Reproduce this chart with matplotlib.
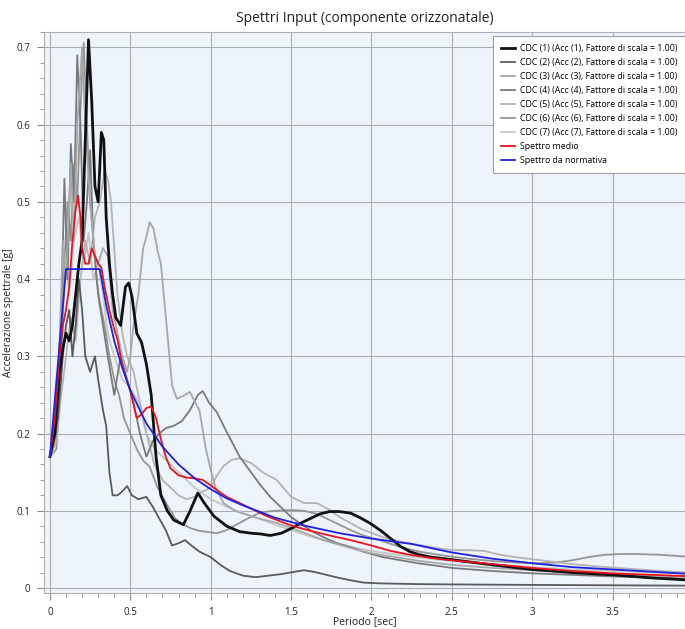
import matplotlib
matplotlib.use("Agg")
import matplotlib.pyplot as plt
from matplotlib.ticker import MultipleLocator, FuncFormatter

plt.rcParams['font.family'] = ['Open Sans', 'DejaVu Sans']

title = "Spettri Input (componente orizzonatale)"
xlabel = "Periodo [sec]"
ylabel = "Accelerazione spettrale [g]"

labels = [
    "CDC (1) (Acc (1), Fattore di scala = 1.00)",
    "CDC (2) (Acc (2), Fattore di scala = 1.00)",
    "CDC (3) (Acc (3), Fattore di scala = 1.00)",
    "CDC (4) (Acc (4), Fattore di scala = 1.00)",
    "CDC (5) (Acc (5), Fattore di scala = 1.00)",
    "CDC (6) (Acc (6), Fattore di scala = 1.00)",
    "CDC (7) (Acc (7), Fattore di scala = 1.00)",
    "Spettro medio",
    "Spettro da normativa",
]

# CDC 1
t1 = [0, 0.03, 0.06, 0.08, 0.1, 0.12, 0.14, 0.16, 0.18, 0.2, 0.22, 0.24, 0.26, 0.28, 0.3, 0.32, 0.335,
      0.35, 0.37, 0.39, 0.41, 0.44, 0.47, 0.49, 0.51, 0.54, 0.57, 0.6, 0.63, 0.66, 0.69, 0.73, 0.77,
      0.83, 0.87, 0.92, 0.96, 1.02, 1.1, 1.18, 1.25, 1.31, 1.37, 1.44, 1.5, 1.56, 1.62, 1.68, 1.74,
      1.8, 1.87, 1.93, 1.99, 2.06, 2.12, 2.18, 2.24, 2.3, 2.37, 2.49, 2.75, 3.0, 3.25, 3.5, 3.75, 4.0]
s1 = [0.17, 0.2, 0.28, 0.31, 0.33, 0.32, 0.34, 0.38, 0.42, 0.45, 0.58, 0.71, 0.63, 0.52, 0.5, 0.59, 0.58,
      0.48, 0.42, 0.38, 0.35, 0.34, 0.39, 0.395, 0.378, 0.33, 0.318, 0.29, 0.25, 0.17, 0.12, 0.1, 0.088,
      0.082, 0.099, 0.123, 0.11, 0.093, 0.08, 0.073, 0.071, 0.07, 0.068, 0.071, 0.077, 0.084, 0.09, 0.096, 0.099,
      0.099, 0.097, 0.091, 0.084, 0.074, 0.064, 0.054, 0.047, 0.043, 0.04, 0.037, 0.03, 0.024, 0.02, 0.017, 0.013, 0.01]

# CDC 2
t2 = [0, 0.05, 0.08, 0.1, 0.12, 0.14, 0.16, 0.18, 0.2, 0.22, 0.25, 0.28, 0.3, 0.33, 0.35, 0.37, 0.39,
      0.42, 0.45, 0.48, 0.51, 0.55, 0.6, 0.64, 0.68, 0.72, 0.76, 0.8, 0.84, 0.88, 0.93, 1.0, 1.06, 1.12,
      1.2, 1.28, 1.36, 1.44, 1.52, 1.58, 1.64, 1.72, 1.8, 1.87, 1.95, 2.05, 2.3, 2.6, 3.0, 3.5, 4.0]
s2 = [0.17, 0.22, 0.3, 0.34, 0.36, 0.3, 0.34, 0.4, 0.36, 0.3, 0.28, 0.3, 0.27, 0.23, 0.21, 0.15, 0.12,
      0.12, 0.125, 0.132, 0.12, 0.115, 0.118, 0.105, 0.09, 0.075, 0.055, 0.058, 0.062, 0.055, 0.047, 0.04, 0.03, 0.022,
      0.016, 0.014, 0.016, 0.018, 0.021, 0.023, 0.021, 0.017, 0.013, 0.01, 0.007, 0.006, 0.005, 0.0045, 0.004, 0.0035, 0.003]

# CDC 3
t3 = [0, 0.05, 0.08, 0.1, 0.13, 0.15, 0.17, 0.2, 0.22, 0.25, 0.28, 0.3, 0.33, 0.36, 0.39, 0.42, 0.45,
      0.48, 0.5, 0.52, 0.55, 0.58, 0.6, 0.62, 0.645, 0.67, 0.69, 0.73, 0.76, 0.79, 0.84, 0.87, 0.93, 0.97,
      1.0, 1.03, 1.08, 1.15, 1.22, 1.3, 1.4, 1.5, 1.6, 1.7, 1.8, 1.9, 2.0, 2.15, 2.3, 2.5, 2.75, 3.0,
      3.25, 3.5, 3.75, 4.0]
s3 = [0.17, 0.25, 0.45, 0.4, 0.55, 0.45, 0.6, 0.7, 0.6, 0.5, 0.43, 0.42, 0.44, 0.43, 0.36, 0.33, 0.3,
      0.28, 0.3, 0.34, 0.38, 0.44, 0.455, 0.474, 0.465, 0.436, 0.42, 0.33, 0.262, 0.245, 0.25, 0.254, 0.23, 0.18,
      0.153, 0.13, 0.11, 0.1, 0.095, 0.09, 0.085, 0.078, 0.07, 0.062, 0.056, 0.05, 0.045, 0.04, 0.035, 0.03, 0.026, 0.023,
      0.02, 0.018, 0.016, 0.015]

# CDC 4
t4 = [0, 0.04, 0.07, 0.09, 0.11, 0.13, 0.15, 0.17, 0.19, 0.21, 0.23, 0.25, 0.27, 0.3, 0.33, 0.36, 0.4,
      0.44, 0.48, 0.52, 0.56, 0.6, 0.64, 0.68, 0.72, 0.77, 0.82, 0.87, 0.92, 0.95, 0.99, 1.04, 1.08, 1.12,
      1.18, 1.25, 1.31, 1.37, 1.44, 1.5, 1.56, 1.62, 1.68, 1.74, 1.8, 1.87, 1.95, 2.07, 2.18, 2.29, 2.4,
      2.5, 2.75, 3.0, 3.25, 3.5, 3.75, 4.0]
s4 = [0.17, 0.2, 0.35, 0.53, 0.4, 0.575, 0.5, 0.69, 0.6, 0.45, 0.5, 0.567, 0.45, 0.38, 0.34, 0.3, 0.25,
      0.3, 0.27, 0.24, 0.2, 0.17, 0.19, 0.2, 0.207, 0.21, 0.216, 0.23, 0.25, 0.255, 0.24, 0.227, 0.21, 0.194,
      0.17, 0.15, 0.133, 0.118, 0.104, 0.092, 0.083, 0.075, 0.068, 0.062, 0.057, 0.053, 0.047, 0.04, 0.036, 0.032, 0.029,
      0.026, 0.022, 0.019, 0.017, 0.015, 0.0135, 0.012]

# CDC 5
t5 = [0, 0.04, 0.07, 0.1, 0.13, 0.16, 0.19, 0.22, 0.25, 0.28, 0.31, 0.34, 0.36, 0.38, 0.4, 0.42, 0.45,
      0.48, 0.52, 0.56, 0.6, 0.65, 0.7, 0.75, 0.8, 0.85, 0.9, 0.95, 1.0, 1.04, 1.08, 1.13, 1.18, 1.25,
      1.33, 1.41, 1.5, 1.58, 1.66, 1.74, 1.8, 1.87, 1.95, 2.07, 2.18, 2.29, 2.4, 2.5, 2.6, 2.7, 2.8,
      2.93, 3.05, 3.2, 3.4, 3.6, 3.8, 4.0]
s5 = [0.17, 0.19, 0.25, 0.3, 0.35, 0.32, 0.4, 0.45, 0.42, 0.48, 0.5, 0.54, 0.53, 0.5, 0.44, 0.38, 0.33,
      0.3, 0.28, 0.24, 0.2, 0.16, 0.14, 0.13, 0.12, 0.115, 0.118, 0.125, 0.13, 0.146, 0.158, 0.166, 0.168, 0.162,
      0.149, 0.14, 0.118, 0.11, 0.11, 0.101, 0.092, 0.084, 0.075, 0.066, 0.06, 0.056, 0.052, 0.049, 0.049, 0.048, 0.043,
      0.039, 0.036, 0.032, 0.028, 0.025, 0.022, 0.02]

# CDC 6
t6 = [0, 0.04, 0.07, 0.09, 0.11, 0.13, 0.15, 0.17, 0.19, 0.21, 0.23, 0.25, 0.27, 0.29, 0.31, 0.34, 0.37,
      0.4, 0.43, 0.46, 0.5, 0.54, 0.58, 0.62, 0.67, 0.73, 0.78, 0.83, 0.88, 0.93, 1.0, 1.04, 1.1, 1.16,
      1.23, 1.31, 1.4, 1.5, 1.58, 1.66, 1.74, 1.8, 1.87, 1.95, 2.05, 2.18, 2.3, 2.45, 2.6, 2.75, 2.9,
      3.05, 3.15, 3.25, 3.35, 3.45, 3.55, 3.65, 3.8, 4.0]
s6 = [0.17, 0.18, 0.28, 0.42, 0.5, 0.45, 0.55, 0.5, 0.62, 0.706, 0.6, 0.5, 0.45, 0.4, 0.37, 0.34, 0.3,
      0.27, 0.25, 0.22, 0.2, 0.18, 0.165, 0.157, 0.13, 0.107, 0.09, 0.082, 0.077, 0.074, 0.072, 0.071, 0.075, 0.082,
      0.09, 0.098, 0.1, 0.101, 0.1, 0.096, 0.088, 0.082, 0.075, 0.068, 0.062, 0.053, 0.047, 0.042, 0.038, 0.035, 0.033,
      0.032, 0.033, 0.036, 0.04, 0.043, 0.044, 0.044, 0.043, 0.04]

# CDC 7
t7 = [0, 0.05, 0.08, 0.1, 0.12, 0.15, 0.18, 0.21, 0.24, 0.27, 0.3, 0.33, 0.36, 0.4, 0.45, 0.5, 0.55,
      0.6, 0.65, 0.7, 0.75, 0.8, 0.85, 0.9, 1.0, 1.1, 1.2, 1.3, 1.4, 1.5, 1.6, 1.7, 1.8, 1.9, 2.0, 2.2,
      2.4, 2.6, 2.8, 3.0, 3.25, 3.5, 3.75, 4.0]
s7 = [0.17, 0.22, 0.35, 0.42, 0.38, 0.45, 0.48, 0.42, 0.46, 0.4, 0.42, 0.38, 0.33, 0.3, 0.27, 0.26, 0.24,
      0.2, 0.18, 0.17, 0.16, 0.15, 0.14, 0.13, 0.115, 0.105, 0.097, 0.09, 0.082, 0.075, 0.068, 0.062, 0.057, 0.052, 0.048, 0.042,
      0.037, 0.033, 0.03, 0.027, 0.024, 0.022, 0.02, 0.018]

# Spettro medio
tm = [0, 0.03, 0.06, 0.08, 0.1, 0.12, 0.14, 0.16, 0.175, 0.19, 0.2, 0.22, 0.24, 0.26, 0.28, 0.3, 0.32,
      0.34, 0.37, 0.4, 0.42, 0.45, 0.5, 0.54, 0.57, 0.6, 0.63, 0.66, 0.69, 0.72, 0.75, 0.8, 0.85, 0.9,
      0.95, 1.0, 1.05, 1.1, 1.18, 1.25, 1.35, 1.5, 1.62, 1.74, 1.87, 2.0, 2.12, 2.24, 2.37, 2.49, 2.75,
      3.0, 3.25, 3.5, 3.75, 4.0]
sm = [0.17, 0.22, 0.3, 0.34, 0.36, 0.39, 0.45, 0.49, 0.508, 0.48, 0.44, 0.42, 0.42, 0.44, 0.43, 0.42, 0.415,
      0.39, 0.36, 0.335, 0.322, 0.288, 0.255, 0.22, 0.225, 0.233, 0.235, 0.22, 0.193, 0.17, 0.155, 0.146, 0.143, 0.142,
      0.14, 0.133, 0.125, 0.118, 0.11, 0.103, 0.093, 0.081, 0.074, 0.068, 0.062, 0.055, 0.048, 0.043, 0.039, 0.036, 0.031,
      0.026, 0.022, 0.019, 0.017, 0.015]

# Spettro da normativa
tn = [0, 0.1, 0.31, 0.35, 0.4, 0.45, 0.5, 0.6, 0.7, 0.8, 0.9, 1.0, 1.1, 1.2, 1.4, 1.6, 1.8, 2.0,
      2.25, 2.5, 2.75, 3.0, 3.25, 3.5, 3.75, 4.0]
sn = [0.17, 0.413, 0.413, 0.366, 0.32, 0.285, 0.256, 0.213, 0.183, 0.16, 0.142, 0.128, 0.116, 0.107, 0.091,
      0.08, 0.071, 0.064, 0.057, 0.046, 0.038, 0.032, 0.027, 0.024, 0.021, 0.018]

rec_t = [t1, t2, t3, t4, t5, t6, t7]
rec_s = [s1, s2, s3, s4, s5, s6, s7]
rec_colors = ["#111111", "#5a5a5a", "#a8a8a8", "#7a7a7a", "#b4b4b4", "#959595", "#c6c6c6"]
rec_widths = [2.0, 1.3, 1.3, 1.3, 1.3, 1.3, 1.3]

fig = plt.figure(figsize=(6.85, 6.29), dpi=100)
ax = fig.add_axes([0.0642, 0.0572, 0.9358, 0.8919])
ax.set_facecolor("#eef4fc")

order = [6, 4, 2, 5, 3, 1, 0]
handles = [None] * 9
for i in order:
    ln, = ax.plot(rec_t[i], rec_s[i], color=rec_colors[i], lw=rec_widths[i], label=labels[i],
                  zorder=2 + (7 - i) * 0.01)
    handles[i] = ln
hm, = ax.plot(tm, sm, color="#e8141e", lw=1.3, label=labels[7], zorder=3)
hn, = ax.plot(tn, sn, color="#2020e0", lw=1.3, label=labels[8], zorder=3.1)
handles[7] = hm
handles[8] = hn

ax.set_xlim(-0.037, 3.95)
ax.set_ylim(-0.0065, 0.72)
ax.xaxis.set_major_locator(MultipleLocator(0.5))
ax.xaxis.set_minor_locator(MultipleLocator(0.1))
ax.yaxis.set_major_locator(MultipleLocator(0.1))
ax.yaxis.set_minor_locator(MultipleLocator(0.02))
ax.xaxis.set_major_formatter(FuncFormatter(lambda v, p: f"{v:g}"))
ax.yaxis.set_major_formatter(FuncFormatter(lambda v, p: f"{v:g}"))
ax.grid(True, which="major", color="#a9adb3", lw=0.8)
ax.set_axisbelow(True)
ax.tick_params(which="major", length=5, color="#8a8a8a", labelsize=7, labelcolor="#222222", pad=5)
ax.tick_params(which="minor", length=3, color="#8a8a8a")
for sp in ax.spines.values():
    sp.set_color("#b0b0b0")
    sp.set_linewidth(0.8)
ax.spines["right"].set_visible(False)

ax.set_title(title, fontsize=10, color="#222222", pad=7)
ax.set_xlabel(xlabel, fontsize=7.5, color="#222222")
ax.xaxis.set_label_coords(0.5, -0.042)
ax.set_ylabel(ylabel, fontsize=7.5, color="#222222")
ax.yaxis.set_label_coords(-0.047, 0.5)

leg = ax.legend(handles=handles, loc="upper right", bbox_to_anchor=(1.0, 0.993), fontsize=6.3,
                frameon=True, fancybox=False, handlelength=1.6, handletextpad=0.5,
                labelspacing=0.58, borderpad=0.9, borderaxespad=0.0)
leg.get_frame().set_edgecolor("#a0a0a0")
leg.get_frame().set_linewidth(0.8)
leg.get_frame().set_facecolor("white")
leg.get_frame().set_alpha(1.0)

fig.savefig("out.png", dpi=100)
